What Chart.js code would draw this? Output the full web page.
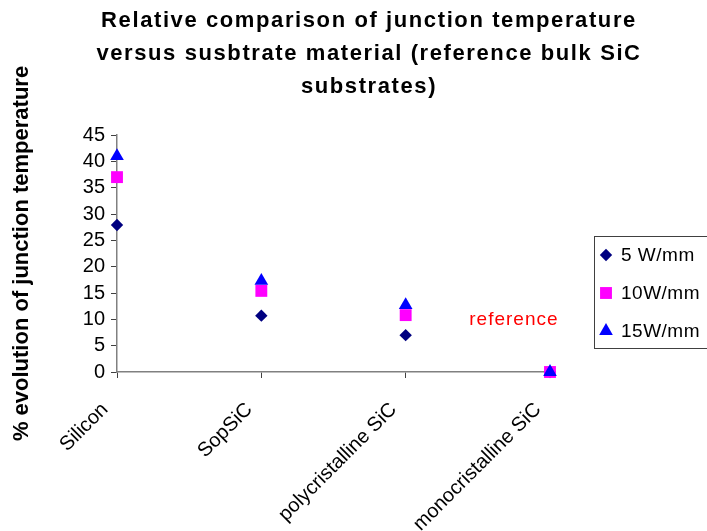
<!DOCTYPE html>
<html>
<head>
<meta charset="utf-8">
<script src="https://cdn.jsdelivr.net/npm/chart.js@4.4.1/dist/chart.umd.min.js"></script>
<style>
  html, body { margin: 0; padding: 0; background: #fff; }
  #chart { display: block; }
</style>
</head>
<body>
<canvas id="chart" width="707" height="531"></canvas>
<script>
// data
const substrates = ["Silicon", "SopSiC", "polycristalline SiC", "monocristalline SiC"];
const seriesNames = ["5 W/mm", "10W/mm", "15W/mm"];
const power5 = [27.9, 10.7, 7.0, 0];
const power10 = [37.0, 15.4, 10.8, 0];
const power15 = [41.0, 17.3, 12.7, 0];
const yMin = 0, yMax = 45, yStep = 5;

const titleLines = [
    "Relative comparison of junction temperature",
    "versus susbtrate material (reference bulk SiC",
    "substrates)"
];
const yTitle = "% evolution of junction temperature";
const refText = "reference";
const refAt = { x: 2.75, y: 10 }; // in data units

const FONT = "'Liberation Sans', Arial, sans-serif";

// title, legend box and the "reference" note
const extras = {
    id: "extras",
    afterDraw(chart) {
        const ctx = chart.ctx;
        ctx.save();

        // title
        ctx.fillStyle = "#000";
        ctx.font = "bold 22px " + FONT;
        ctx.letterSpacing = "1.6px";
        ctx.textAlign = "center";
        ctx.textBaseline = "middle";
        titleLines.forEach((t, i) => ctx.fillText(t, 369, 21 + i * 33));

        // reference note
        const { x, y } = chart.scales;
        ctx.fillStyle = "#ff0000";
        ctx.font = "19px " + FONT;
        ctx.letterSpacing = "1px";
        ctx.fillText(refText, x.getPixelForValue(refAt.x), y.getPixelForValue(refAt.y));

        // legend
        ctx.strokeStyle = "#404040";
        ctx.lineWidth = 1;
        ctx.strokeRect(594.5, 236.5, 140, 112);
        ctx.textAlign = "left";
        ctx.letterSpacing = "0.5px";
        chart.data.datasets.forEach((ds, i) => {
            const cy = 255 + i * 38;
            ctx.fillStyle = ds.backgroundColor;
            Chart.helpers.drawPoint(ctx, {
                pointStyle: ds.pointStyle,
                radius: ds.pointRadius,
                rotation: 0,
                borderWidth: 0
            }, 606, cy);
            ctx.fillStyle = "#000";
            ctx.font = "19px " + FONT;
            ctx.fillText(ds.label, 621, cy + 1);
        });
        ctx.restore();
    }
};

new Chart(document.getElementById("chart"), {
    type: "line",
    data: {
        labels: substrates,
        datasets: [
            {
                label: seriesNames[0],
                data: power5,
                pointStyle: "rectRot",
                pointRadius: 6.2,
                backgroundColor: "#000080",
                borderColor: "#000080",
                borderWidth: 0,
                clip: false,
                order: 3
            },
            {
                label: seriesNames[1],
                data: power10,
                pointStyle: "rect",
                pointRadius: 8.4,
                backgroundColor: "#ff00ff",
                borderColor: "#ff00ff",
                borderWidth: 0,
                clip: false,
                order: 2
            },
            {
                label: seriesNames[2],
                data: power15,
                pointStyle: "triangle",
                pointRadius: 7.9,
                backgroundColor: "#0000ff",
                borderColor: "#0000ff",
                borderWidth: 0,
                clip: false,
                order: 1
            }
        ]
    },
    options: {
        responsive: false,
        animation: false,
        events: [],
        showLine: false,
        layout: { padding: { left: 0, right: 157, top: 135, bottom: 0 } },
        plugins: {
            legend: { display: false },
            title: { display: false },
            tooltip: { enabled: false }
        },
        scales: {
            x: {
                offset: false,
                grid: { drawOnChartArea: false, drawTicks: true, tickLength: 6, color: "#404040" },
                border: { color: "#808080", width: 1.5 },
                ticks: {
                    autoSkip: false,
                    minRotation: 45,
                    maxRotation: 45,
                    padding: 20,
                    labelOffset: -12,
                    color: "#000",
                    font: { family: FONT, size: 20 }
                },
                afterFit(scale) { scale.height = 159; }
            },
            y: {
                min: yMin,
                max: yMax,
                grid: { drawOnChartArea: false, drawTicks: true, tickLength: 6, color: "#404040" },
                border: { color: "#808080", width: 1.5 },
                ticks: {
                    stepSize: yStep,
                    autoSkip: false,
                    padding: 6,
                    color: "#000",
                    font: { family: FONT, size: 20 }
                },
                title: {
                    display: true,
                    text: yTitle,
                    color: "#000",
                    padding: { top: 9, bottom: 0 },
                    font: { family: FONT, size: 22, weight: "bold" }
                },
                afterFit(scale) { scale.width = 117; }
            }
        }
    },
    plugins: [extras]
});
</script>
</body>
</html>
